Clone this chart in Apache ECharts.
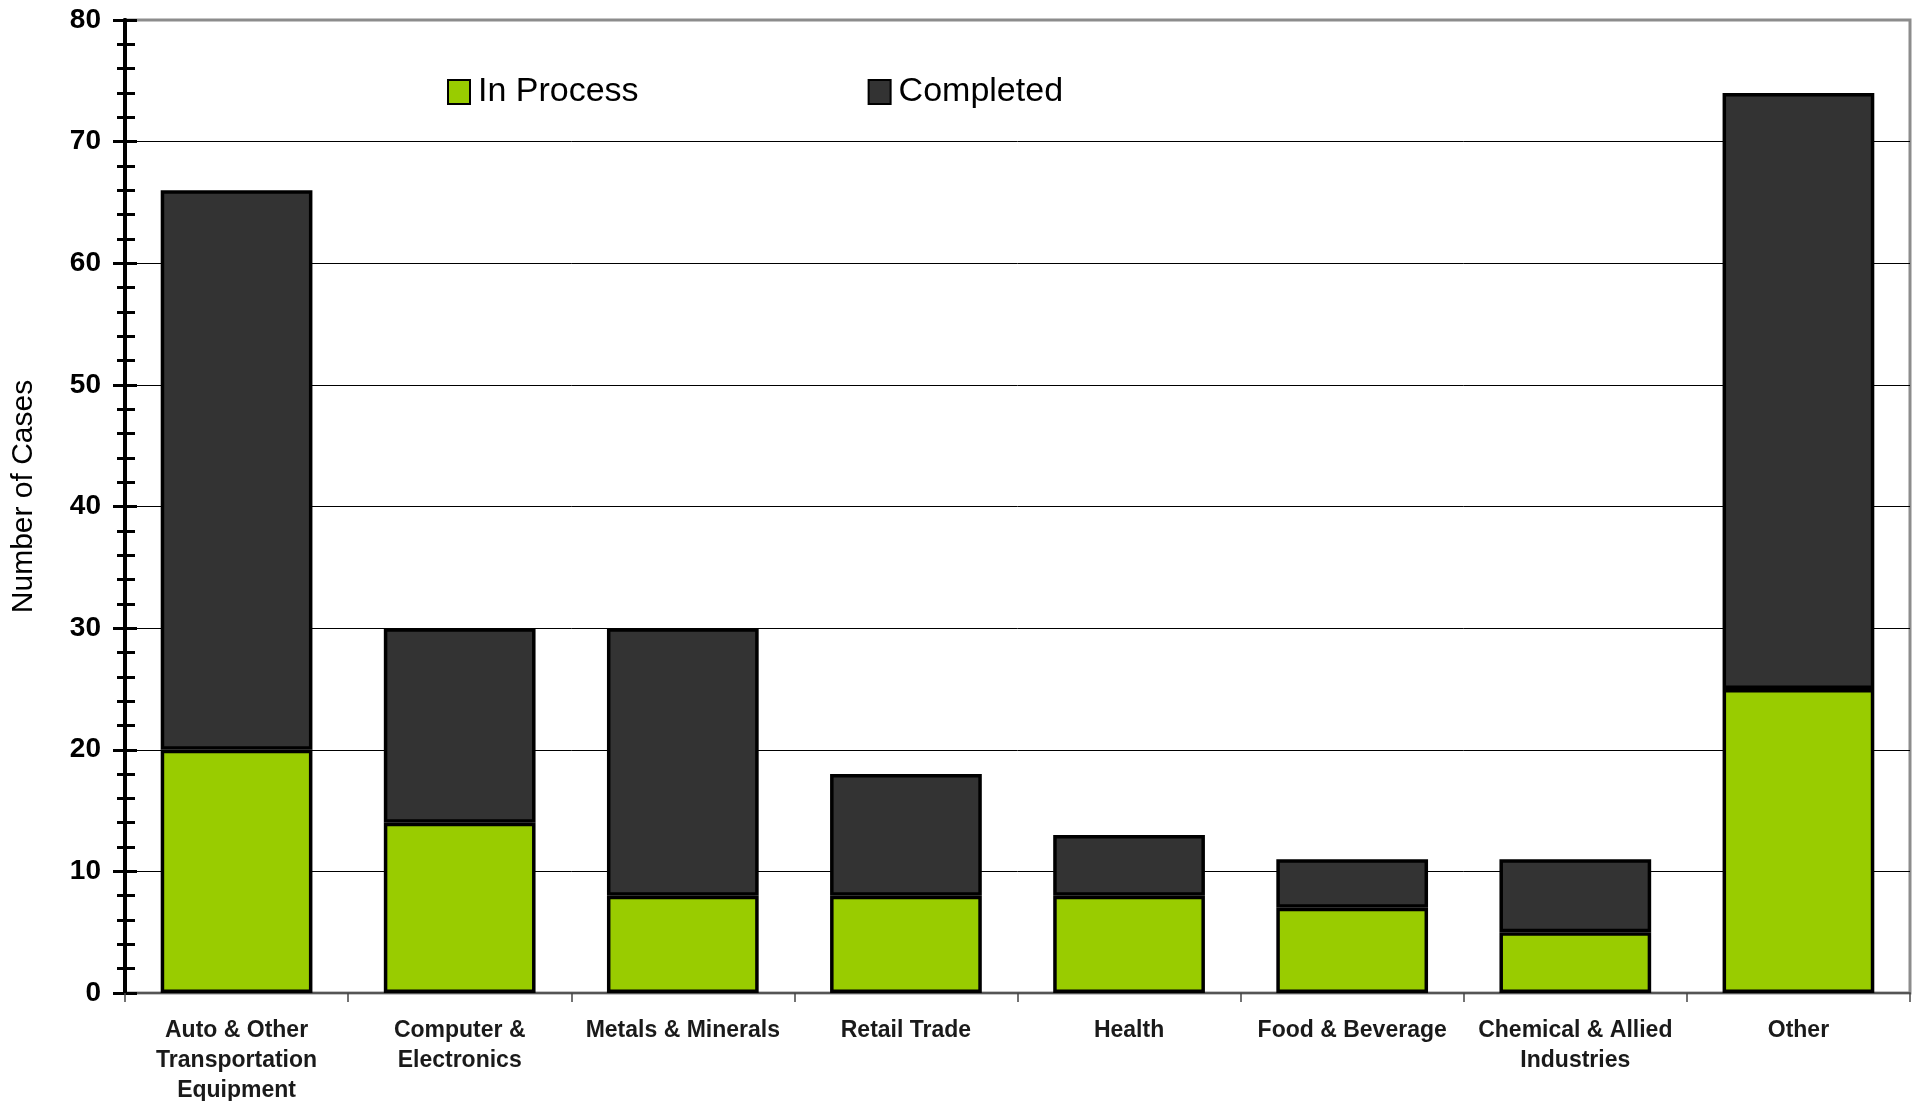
<!DOCTYPE html>
<html>
<head>
<meta charset="utf-8">
<script src="https://cdn.jsdelivr.net/npm/echarts@6/dist/echarts.min.js"></script>
<style>
html,body{margin:0;padding:0;background:#fff;}
#chart{width:1914px;height:1101px;}
</style>
</head>
<body>
<div id="chart"></div>
<script>
const categories = [
  'Auto & Other\nTransportation\nEquipment',
  'Computer &\nElectronics',
  'Metals & Minerals',
  'Retail Trade',
  'Health',
  'Food & Beverage',
  'Chemical & Allied\nIndustries',
  'Other'
];
const inProcess = [20, 14, 8, 8, 8, 7, 5, 25];
const completed = [46, 16, 22, 10, 5, 4, 6, 49];
const yTicks = { min: 0, max: 80, interval: 10 };

const FONT = 'Liberation Sans, Arial, sans-serif';
const chart = echarts.init(document.getElementById('chart'), null, { renderer: 'canvas' });
chart.setOption({
  backgroundColor: '#fff',
  animation: false,
  textStyle: { fontFamily: FONT },
  grid: { left: 125, right: 4, top: 20, bottom: 108, outerBoundsMode: 'none', containLabel: false,
          show: true, borderColor: '#8c8c8c', borderWidth: 3, backgroundColor: 'transparent' },
  legend: {
    left: 442, top: 70,
    icon: 'rect',
    itemWidth: 22, itemHeight: 24, itemGap: 229,
    textStyle: { fontSize: 34, color: '#000', fontFamily: FONT, padding: [0, 0, 0, 3] },
    data: ['In Process', 'Completed']
  },
  xAxis: {
    type: 'category',
    data: categories,
    boundaryGap: true,
    axisLine: { show: true, lineStyle: { color: '#555', width: 2 } },
    axisTick: { show: true, length: 9, lineStyle: { color: '#444', width: 1.5 } },
    axisLabel: { interval: 0, fontSize: 23, fontWeight: 'bold', color: '#1a1a1a', lineHeight: 30, margin: 23, fontFamily: FONT },
    splitLine: { show: false }
  },
  yAxis: [
    {
      type: 'value', min: yTicks.min, max: yTicks.max, interval: yTicks.interval,
      name: 'Number of Cases', nameLocation: 'middle', nameGap: 86, nameRotate: 90,
      nameTextStyle: { fontSize: 30, color: '#000', fontFamily: FONT, padding: [0, 0, 0, 20] },
      axisLine: { show: true, lineStyle: { color: '#000', width: 4 } },
      axisTick: { show: true, inside: false, length: 12, lineStyle: { color: '#000', width: 3 } },
      minorTick: { show: true, splitNumber: 5, length: 8, lineStyle: { color: '#000', width: 3 } },
      axisLabel: { fontSize: 28, fontWeight: 'bold', color: '#000', margin: 24, fontFamily: FONT },
      splitLine: { show: true, showMaxLine: false, showMinLine: false, lineStyle: { color: '#000', width: 1 } }
    },
    {
      type: 'value', min: yTicks.min, max: yTicks.max, interval: yTicks.interval,
      position: 'left', offset: 0,
      axisLine: { show: true, lineStyle: { color: '#000', width: 4 } },
      axisTick: { show: true, inside: true, length: 12, lineStyle: { color: '#000', width: 3 } },
      minorTick: { show: true, splitNumber: 5, length: 10, lineStyle: { color: '#000', width: 3 } },
      axisLabel: { show: false },
      splitLine: { show: false }
    }
  ],
  series: [
    {
      name: 'In Process', type: 'bar', stack: 'total', data: inProcess,
      barWidth: '68%',
      itemStyle: { color: '#99cc00', borderColor: '#000', borderWidth: 3.5 }
    },
    {
      name: 'Completed', type: 'bar', stack: 'total', data: completed,
      barWidth: '68%',
      itemStyle: { color: '#333333', borderColor: '#000', borderWidth: 3.5 }
    }
  ]
});
</script>
</body>
</html>
